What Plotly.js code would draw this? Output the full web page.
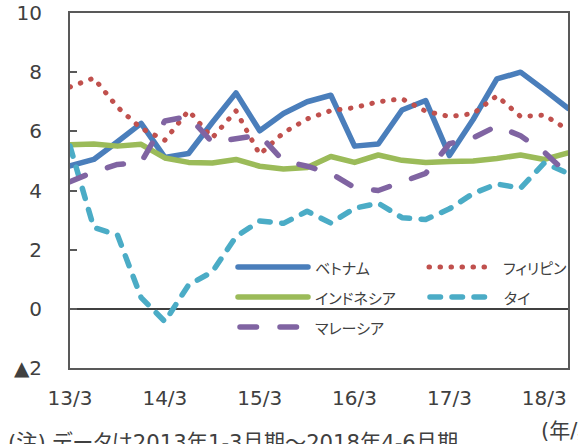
<!DOCTYPE html>
<html>
<head>
<meta charset="utf-8">
<script src="https://cdn.plot.ly/plotly-3.0.1.min.js"></script>
<style>
html, body { margin: 0; padding: 0; background: #fff; }
#chart { width: 578px; height: 444px; }
.js-line { stroke-linecap: round; stroke-linejoin: round; }
.shapelayer path { stroke-linecap: round; }
text.annotation-text { font-feature-settings: "palt" 1; }
</style>
</head>
<body>
<div id="chart"></div>
<script>
// ---- data ----
const quarters = ['13/3','13/6','13/9','13/12','14/3','14/6','14/9','14/12','15/3','15/6','15/9','15/12',
                  '16/3','16/6','16/9','16/12','17/3','17/6','17/9','17/12','18/3','18/6'];
const tickLabels = ['13/3','14/3','15/3','16/3','17/3','18/3'];
const seriesNames = ['ベトナム','フィリピン','インドネシア','タイ','マレーシア'];
const vietnam     = [4.83, 5.05, 5.65, 6.27, 5.12, 5.25, 6.3, 7.3, 6.02, 6.6, 7.0, 7.22, 5.5, 5.57, 6.72, 7.04, 5.18, 6.4, 7.77, 8.0, 7.4, 6.78];
const philippines = [7.5, 7.8, 6.82, 6.1, 5.7, 6.7, 5.78, 6.69, 5.22, 5.95, 6.42, 6.7, 6.8, 7.0, 7.1, 6.68, 6.5, 6.6, 7.2, 6.5, 6.55, 6.05];
const indonesia   = [5.55, 5.57, 5.5, 5.56, 5.1, 4.95, 4.93, 5.05, 4.82, 4.73, 4.78, 5.15, 4.95, 5.2, 5.02, 4.95, 4.98, 5.0, 5.08, 5.2, 5.05, 5.27];
const thailand    = [5.5, 2.75, 2.5, 0.38, -0.43, 0.81, 1.25, 2.44, 2.97, 2.89, 3.3, 2.9, 3.4, 3.57, 3.08, 3.02, 3.38, 3.9, 4.22, 4.08, 4.93, 4.58];
const malaysia    = [4.3, 4.63, 4.88, 4.95, 6.35, 6.5, 5.63, 5.73, 5.87, 5.0, 4.82, 4.58, 4.1, 4.0, 4.29, 4.58, 5.58, 5.78, 6.18, 5.85, 5.3, 4.55];
const yTickVals = [-2, 0, 2, 4, 6, 8, 10];
const yTickText = ['▲2', '0', '2', '4', '6', '8', '10'];
const noteText = '(注) データは2013年1-3月期～2018年4-6月期';
const unitText = '(年/期)';

// ---- styles ----
const colors = ['#4a7ebb', '#c0504d', '#9bbb59', '#4bacc6', '#8064a2'];
const widths = [5.5, 5, 5.5, 5.5, 5.5];
const dashes = ['solid', '0.5px,10.5px', 'solid', '10.5px,11.5px', '16.5px,23.5px'];
const values = [vietnam, philippines, indonesia, thailand, malaysia];

const traces = values.map((v, i) => ({
  type: 'scatter', mode: 'lines', x: quarters, y: v, name: seriesNames[i],
  line: { color: colors[i], width: widths[i], dash: dashes[i] },
  showlegend: false, hoverinfo: 'skip'
}));

// plot area in pixels
const L = 70, R = 568, T = 13, B = 368;
const px = x => (x - L) / (R - L);
const py = y => (B - y) / (B - T);

// manual legend (Excel-like long samples)
const legendPos = [
  { x0: 238, x1: 308, y: 267, tx: 313 },
  { x0: 429, x1: 489, y: 267, tx: 501 },
  { x0: 238, x1: 308, y: 297, tx: 313 },
  { x0: 430, x1: 488, y: 297, tx: 502 },
  { x0: 240, x1: 308, y: 327, tx: 313 }
];
const shapes = legendPos.map((p, i) => ({
  type: 'line', xref: 'paper', yref: 'paper',
  x0: px(p.x0), x1: px(p.x1), y0: py(p.y), y1: py(p.y),
  line: { color: colors[i], width: widths[i], dash: dashes[i] }
}));
const jp = { family: 'Noto Sans CJK JP, sans-serif', size: 15, color: '#404040' };
const annotations = legendPos.map((p, i) => ({
  xref: 'paper', yref: 'paper', x: px(p.tx), y: py(p.y),
  xanchor: 'left', yanchor: 'middle', text: seriesNames[i], showarrow: false, font: jp
}));
annotations.push({
  xref: 'paper', yref: 'paper', x: px(6), y: py(442), xanchor: 'left', yanchor: 'middle',
  text: noteText, showarrow: false,
  font: { family: 'DejaVu Sans, Noto Sans CJK JP, sans-serif', size: 21.2, color: '#404040' }
});
annotations.push({
  xref: 'paper', yref: 'paper', x: px(539), y: py(431), xanchor: 'left', yanchor: 'middle',
  text: unitText, showarrow: false,
  font: { family: 'DejaVu Sans, Noto Sans CJK JP, sans-serif', size: 21, color: '#404040' }
});

const layout = {
  width: 578, height: 444,
  margin: { l: L, r: 578 - R, t: T, b: 444 - B, pad: 0 },
  paper_bgcolor: '#ffffff', plot_bgcolor: '#ffffff',
  font: { family: 'DejaVu Sans, sans-serif', size: 20, color: '#404040' },
  xaxis: {
    type: 'category', range: [0, quarters.length - 1],
    tickmode: 'array', tickvals: tickLabels, ticktext: tickLabels,
    ticks: '', showgrid: false, zeroline: false,
    showline: true, mirror: true, linecolor: '#595959', linewidth: 2,
    ticklabelstandoff: 11, fixedrange: true
  },
  yaxis: {
    range: [-2, 10], tickmode: 'array', tickvals: yTickVals, ticktext: yTickText,
    ticks: 'inside', ticklen: 7, tickwidth: 2, tickcolor: '#595959',
    showgrid: false, zeroline: true, zerolinecolor: '#404040', zerolinewidth: 1.5,
    showline: true, mirror: true, linecolor: '#595959', linewidth: 2,
    ticklabelstandoff: 22, fixedrange: true
  },
  shapes: shapes,
  annotations: annotations
};

Plotly.newPlot('chart', traces, layout, { staticPlot: true, displayModeBar: false });
</script>
</body>
</html>
